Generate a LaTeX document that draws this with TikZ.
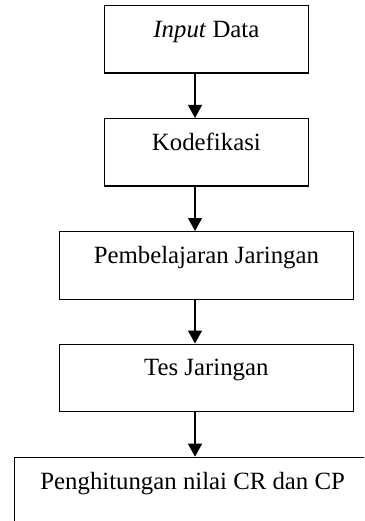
\documentclass[tikz,border=0pt]{standalone}
\usepackage{fontspec}
\setmainfont{Liberation Serif}
\usetikzlibrary{arrows.meta}
\begin{document}
\begin{tikzpicture}[x=1pt,y=-1pt,
  stepbox/.style={draw=black, line width=1.3pt, anchor=north west, minimum height=67.5pt,
    inner xsep=0pt, inner ysep=0pt, text height=18pt, text depth=22pt,
    font=\fontsize{24.8}{30}\selectfont},
  arr/.style={line width=1.3pt, -{Triangle[length=13pt,width=14pt]}}]
\useasboundingbox (0,0) rectangle (364,521);
\clip (0,0) rectangle (364,521);
\node[stepbox, minimum width=203.5pt] (b1) at (104,5) {\textit{Input} Data};
\node[stepbox, minimum width=203.5pt] (b2) at (104,118) {Kodefikasi};
\node[stepbox, minimum width=294pt] (b3) at (58.7,231) {Pembelajaran Jaringan};
\node[stepbox, minimum width=294pt] (b4) at (58.7,343.5) {Tes Jaringan};
\node[stepbox, minimum width=356pt] (b5) at (14,456.7) {Penghitungan nilai CR dan CP};
\coordinate (ax) at (195,0);
\draw[arr] (b1.south -| ax) -- (b2.north -| ax);
\draw[arr] (b2.south -| ax) -- (b3.north -| ax);
\draw[arr] (b3.south -| ax) -- (b4.north -| ax);
\draw[arr] (b4.south -| ax) -- (b5.north -| ax);
\end{tikzpicture}
\end{document}
